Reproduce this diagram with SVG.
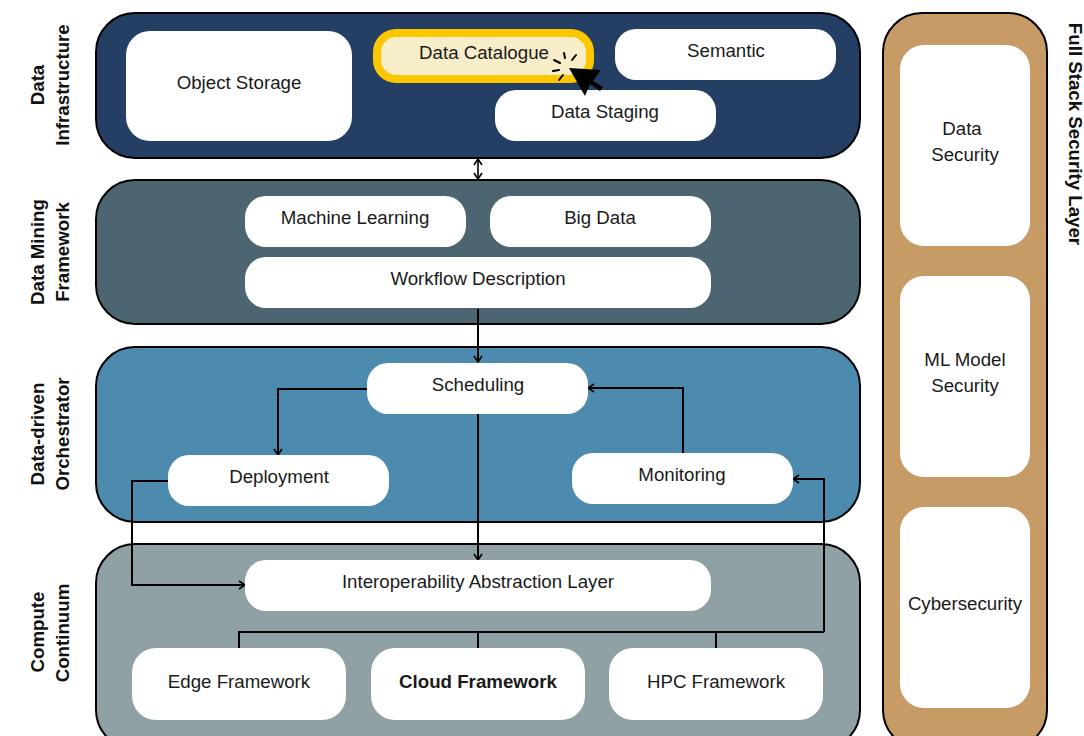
<svg xmlns="http://www.w3.org/2000/svg" width="1084" height="736" viewBox="0 0 1084 736">
<style>
text{font-family:"Liberation Sans",Arial,sans-serif;font-size:18.7px;fill:#1a1a1a;text-anchor:middle}
.lab{font-weight:bold;fill:#111}
.n{fill:#fff}
.layer{stroke:#000;stroke-width:2}
.c{fill:none;stroke:#000;stroke-width:2}
.a{marker-end:url(#ah)}
</style>
<defs>
<marker id="ah" viewBox="0 0 10 10" refX="9" refY="5" markerWidth="10" markerHeight="10" markerUnits="userSpaceOnUse" orient="auto-start-reverse"><path d="M3 1L9 5L3 9" fill="none" stroke="#000" stroke-width="1.6"/></marker>
</defs>
<rect width="1084" height="736" fill="#fff"/>
<g id="layers">
<rect id="layer-infra" class="layer" x="96" y="13" width="764" height="145" rx="39" fill="#243f63"/>
<rect id="layer-mining" class="layer" x="96" y="180" width="764" height="144" rx="39" fill="#4c6570"/>
<rect id="layer-orch" class="layer" x="96" y="347" width="764" height="175" rx="39" fill="#4c8bad"/>
<rect id="layer-compute" class="layer" x="96" y="544" width="764" height="205" rx="39" fill="#8fa1a5"/>
<rect id="layer-security" class="layer" x="883" y="13" width="164" height="736" rx="39" fill="#c69b66"/>
</g>
<g id="connectors">
<path class="c a" d="M478 159V179" marker-start="url(#ah)" style="stroke-width:1.6"/>
<path class="c a" d="M478 309V362"/>
<path class="c a" d="M367 389H278V455"/>
<path class="c a" d="M683 453V388H588"/>
<path class="c a" d="M478 413V560"/>
<path class="c a" d="M168 481H132V585H245"/>
<path class="c" d="M239 648V632H824"/>
<path class="c" d="M478 632V648M716 632V648"/>
<path class="c a" d="M824 632V479H793"/>
</g>
<g id="object-storage"><rect class="n" x="126" y="31" width="226" height="110" rx="24"/><text x="239" y="89">Object Storage</text></g>
<g id="data-catalogue"><rect x="377" y="33" width="213" height="46" rx="19" fill="#f7edc9" stroke="#fdc700" stroke-width="8"/><text x="484" y="59">Data Catalogue</text></g>
<g id="semantic"><rect class="n" x="615" y="29" width="221" height="51" rx="21"/><text x="726" y="57">Semantic</text></g>
<g id="data-staging"><rect class="n" x="495" y="90" width="221" height="51" rx="21"/><text x="605" y="118">Data Staging</text></g>
<g id="machine-learning"><rect class="n" x="245" y="196" width="221" height="51" rx="21"/><text x="355" y="224">Machine Learning</text></g>
<g id="big-data"><rect class="n" x="490" y="196" width="221" height="51" rx="21"/><text x="600" y="224">Big Data</text></g>
<g id="workflow"><rect class="n" x="245" y="257" width="466" height="51" rx="21"/><text x="478" y="285">Workflow Description</text></g>
<g id="scheduling"><rect class="n" x="367" y="363" width="221" height="51" rx="21"/><text x="478" y="391">Scheduling</text></g>
<g id="deployment"><rect class="n" x="168" y="455" width="221" height="51" rx="21"/><text x="279" y="483">Deployment</text></g>
<g id="monitoring"><rect class="n" x="572" y="453" width="221" height="51" rx="21"/><text x="682" y="481">Monitoring</text></g>
<g id="interop"><rect class="n" x="245" y="560" width="466" height="51" rx="21"/><text x="478" y="588">Interoperability Abstraction Layer</text></g>
<g id="edge"><rect class="n" x="132" y="648" width="214" height="72" rx="24"/><text x="239" y="688">Edge Framework</text></g>
<g id="cloud"><rect class="n" x="371" y="648" width="214" height="72" rx="24"/><text x="478" y="688" style="font-weight:bold">Cloud Framework</text></g>
<g id="hpc"><rect class="n" x="609" y="648" width="214" height="72" rx="24"/><text x="716" y="688">HPC Framework</text></g>
<g id="data-security"><rect class="n" x="900" y="45" width="130" height="201" rx="24"/><text x="962" y="135">Data</text><text x="965" y="161">Security</text></g>
<g id="ml-security"><rect class="n" x="900" y="276" width="130" height="201" rx="24"/><text x="965" y="366">ML Model</text><text x="965" y="392">Security</text></g>
<g id="cybersecurity"><rect class="n" x="900" y="507" width="130" height="201" rx="24"/><text x="965" y="610">Cybersecurity</text></g>
<g id="labels">
<text class="lab" transform="translate(44 85) rotate(-90)">Data</text>
<text class="lab" transform="translate(69 85) rotate(-90)">Infrastructure</text>
<text class="lab" transform="translate(44 252) rotate(-90)">Data Mining</text>
<text class="lab" transform="translate(69 252) rotate(-90)">Framework</text>
<text class="lab" transform="translate(44 434) rotate(-90)">Data-driven</text>
<text class="lab" transform="translate(69 434) rotate(-90)">Orchestrator</text>
<text class="lab" transform="translate(44 632) rotate(-90)">Compute</text>
<text class="lab" transform="translate(69 633) rotate(-90)">Continuum</text>
<text class="lab" transform="translate(1069 134) rotate(90)">Full Stack Security Layer</text>
</g>
<g id="cursor">
<path d="M569 68L601 70L593 81L603 87L600 91L590 84L585 96Z" fill="#000"/>
<path d="M564 53L565 58M576 55L572 60M554 60L560 63M553 71L559 70M559 80L563 75" fill="none" stroke="#000" stroke-width="2" stroke-linecap="round"/>
</g>
</svg>
